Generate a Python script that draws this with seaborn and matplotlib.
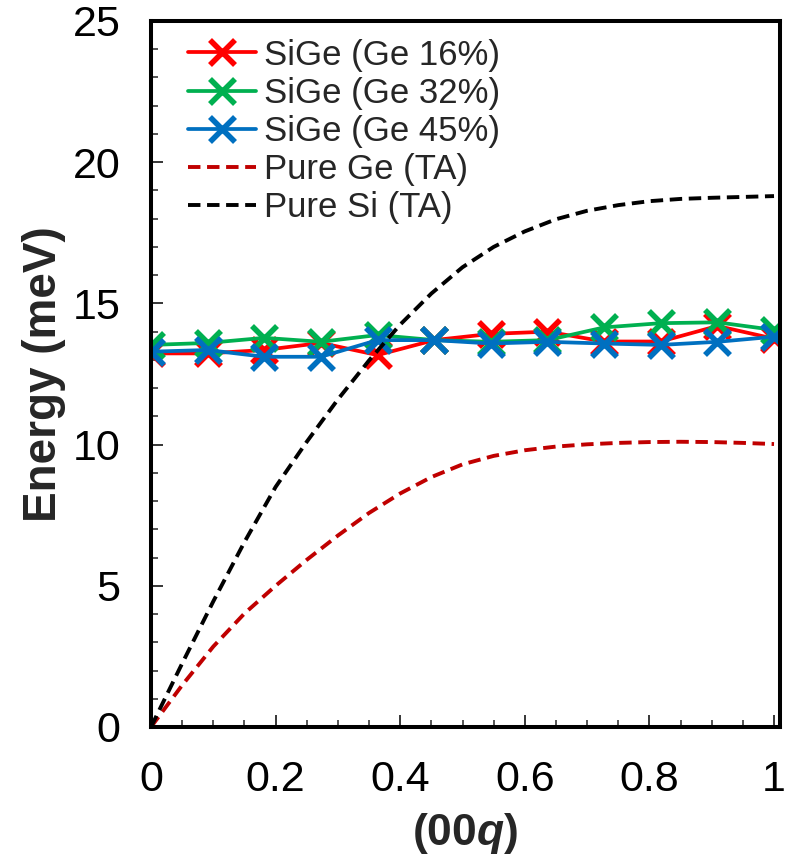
import numpy as np
import pandas as pd
import seaborn as sns
import matplotlib
matplotlib.use("Agg")
import matplotlib.pyplot as plt
from matplotlib.ticker import MultipleLocator
from matplotlib.lines import Line2D

# ---- data ----
q_pts = [0, 1/11, 2/11, 3/11, 4/11, 5/11, 6/11, 7/11, 8/11, 9/11, 10/11, 1.0]
e_16 = [13.23, 13.23, 13.35, 13.6, 13.17, 13.7, 13.92, 14.0, 13.65, 13.65, 14.2, 13.75]
e_32 = [13.53, 13.6, 13.78, 13.64, 13.88, 13.7, 13.64, 13.7, 14.15, 14.3, 14.33, 14.06]
e_45 = [13.29, 13.35, 13.11, 13.11, 13.7, 13.7, 13.58, 13.64, 13.58, 13.53, 13.64, 13.82]

q_ge = [0, 0.05, 0.1, 0.15, 0.2, 0.25, 0.3, 0.35, 0.4, 0.45, 0.5, 0.55, 0.6,
        0.65, 0.7, 0.75, 0.8, 0.85, 0.9, 0.95, 1.0]
e_ge = [0, 1.48, 2.85, 4.02, 5.0, 5.92, 6.78, 7.58, 8.27, 8.85, 9.3, 9.6, 9.8,
        9.93, 10.01, 10.06, 10.09, 10.1, 10.09, 10.06, 10.02]

q_si = [0, 0.05, 0.1, 0.15, 0.2, 0.25, 0.3, 0.35, 0.4, 0.45, 0.5, 0.55, 0.6,
        0.65, 0.7, 0.75, 0.8, 0.85, 0.9, 0.95, 1.0]
e_si = [0, 2.25, 4.45, 6.55, 8.5, 10.1, 11.6, 12.98, 14.25, 15.35, 16.28, 17.0, 17.55,
        17.98, 18.28, 18.48, 18.62, 18.7, 18.74, 18.77, 18.8]

labels = ["SiGe (Ge 16%)", "SiGe (Ge 32%)", "SiGe (Ge 45%)", "Pure Ge (TA)", "Pure Si (TA)"]
colors = ["#FF0000", "#00B050", "#0070C0", "#C00000", "black"]

sns.set_theme(style="white")
plt.rcParams['font.family'] = ['Liberation Sans', 'DejaVu Sans']
plt.rcParams['mathtext.fontset'] = 'custom'
plt.rcParams['mathtext.rm'] = 'Liberation Sans'
plt.rcParams['mathtext.bf'] = 'Liberation Sans:bold'
plt.rcParams['mathtext.it'] = 'Liberation Sans:italic'
plt.rcParams['mathtext.bfit'] = 'Liberation Sans:bold:italic'

fig = plt.figure(figsize=(7.92, 8.60), dpi=100)
ax = fig.add_axes([151/792, 1 - 727/860, (780 - 151)/792, (727 - 21)/860])

MS, MEW, LW = 18, 4.0, 2.7
DASH = (0, (3.2, 1.7))
for vals, col in zip([e_16, e_32, e_45], colors[:3]):
    d = pd.DataFrame({"q": q_pts, "E": vals})
    sns.lineplot(data=d, x="q", y="E", color=col, marker="x", markersize=MS,
                 markeredgewidth=MEW, markeredgecolor=col, linewidth=LW,
                 linestyle="-", sort=False, ax=ax, legend=False)
for qv, ev, col in [(q_ge, e_ge, colors[3]), (q_si, e_si, colors[4])]:
    d = pd.DataFrame({"q": qv, "E": ev})
    sns.lineplot(data=d, x="q", y="E", color=col, linewidth=2.8,
                 linestyle=DASH, ax=ax, legend=False)

handles = [Line2D([], [], color=c, marker="x", markersize=MS, markeredgewidth=MEW,
                  markeredgecolor=c, linewidth=LW) for c in colors[:3]]
handles += [Line2D([], [], color=c, linewidth=2.8, linestyle=DASH) for c in colors[3:]]
ax.legend(handles, labels, loc="upper left", frameon=False, fontsize=25,
          handlelength=1.95, handletextpad=0.25, labelspacing=0.145,
          borderpad=0.0, borderaxespad=0.0, bbox_to_anchor=(0.059, 0.975))

ax.set_xlim(0, 1.0096)
ax.set_ylim(0, 25)
ax.xaxis.set_minor_locator(MultipleLocator(0.05))
ax.yaxis.set_major_locator(MultipleLocator(5))
ax.yaxis.set_minor_locator(MultipleLocator(1))
ax.set_xticks([0, 0.2, 0.4, 0.6, 0.8, 1.0])
ax.set_xticklabels(["0", "0.2", "0.4", "0.6", "0.8", "1"])
ax.tick_params(which="major", direction="in", length=8.5, width=1.1, labelsize=31,
               colors="black")
ax.tick_params(which="minor", direction="in", length=5, width=1.1)
ax.tick_params(axis="x", which="major", pad=24)
ax.tick_params(axis="y", which="major", pad=22)
ax.tick_params(bottom=True, left=True, which="both")
for sp in ax.spines.values():
    sp.set_linewidth(2.9)
    sp.set_color("black")
    sp.set_visible(True)

ax.set_ylabel("Energy (meV)", fontsize=33, fontweight="bold", labelpad=5)
ax.set_xlabel(r"(00$\mathbfit{q}$)", fontsize=32, fontweight="bold", labelpad=8)

fig.savefig("out.png", dpi=100)
